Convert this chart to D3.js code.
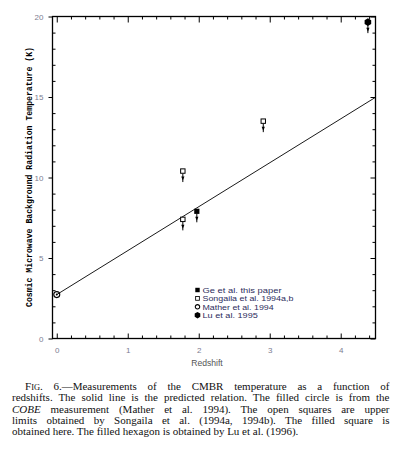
<!DOCTYPE html>
<html>
<head>
<meta charset="utf-8">
<script src="https://cdn.jsdelivr.net/npm/d3@7"></script>
<style>
  body { margin: 0; background: #fff; }
  svg { display: block; }
</style>
</head>
<body>
<div id="chart"></div>
<script>
const matherZ = [0],                  matherT = [2.726];
const songailaZ = [1.776, 1.776, 2.909], songailaT = [7.4, 10.4, 13.5];
const geZ = [1.973],                  geT = [7.9];
const luZ = [4.383],                  luT = [19.65];

// predicted relation (end points of the solid line)
const predictedZ = [0, 4.49], predictedT = [2.728, 14.98];

const xMajor = [0, 1, 2, 3, 4];
const yMajor = [0, 5, 10, 15, 20];

const legendLabels = ['Ge et al. this paper', 'Songaila et al. 1994a,b', 'Mather et al. 1994', 'Lu et al. 1995'];
const legendKinds = ['filledSquare', 'openSquare', 'openCircle', 'hexagon'];

const captionLines = [
    [{t: 'F'}, {t: 'IG', sc: true}, {t: '. 6.\u2014Measurements of the CMBR temperature as a function of'}],
    [{t: 'redshifts. The solid line is the predicted relation. The filled circle is from the'}],
    [{t: 'COBE', it: true}, {t: ' measurement (Mather et al. 1994). The open squares are upper'}],
    [{t: 'limits obtained by Songaila et al. (1994a, 1994b). The filled square is'}],
    [{t: 'obtained here. The filled hexagon is obtained by Lu et al. (1996).'}]
];

const W = 398, H = 455;

let svg = d3.select('#chart').append('svg')
    .attr('width', W)
    .attr('height', H);

// scales
let x = d3.scaleLinear().domain([-0.06, 4.49]).range([52.5, 375.5]);
let y = d3.scaleLinear().domain([0, 20]).range([338.5, 16.5]);

let xMinor = d3.range(0, 4.5, 0.2).filter(v => Math.abs(v - Math.round(v)) > 1e-6);
let yMinor = d3.range(0, 20, 1).filter(v => v % 5 !== 0);

let tickFont = 'Liberation Sans, Arial, sans-serif';
let tickColor = '#7c7c90';

function styleAxis(g) {
    g.select('.domain').remove();
    g.selectAll('line').attr('stroke', '#000').attr('stroke-width', 1);
    g.selectAll('text')
        .attr('font-family', tickFont)
        .attr('font-size', 8)
        .attr('fill', tickColor);
}

// bottom
svg.append('g').attr('transform', `translate(0,${y(0)})`)
    .call(d3.axisBottom(x).tickValues(xMajor).tickSize(-5).tickPadding(8.5).tickFormat(d3.format('d')))
    .call(styleAxis);
svg.append('g').attr('transform', `translate(0,${y(0)})`)
    .call(d3.axisBottom(x).tickValues(xMinor).tickSize(-3).tickFormat(''))
    .call(styleAxis);

// top
svg.append('g').attr('transform', `translate(0,${y(20)})`)
    .call(d3.axisTop(x).tickValues(xMajor).tickSize(-6).tickFormat(''))
    .call(styleAxis);
svg.append('g').attr('transform', `translate(0,${y(20)})`)
    .call(d3.axisTop(x).tickValues(xMinor).tickSize(-3).tickFormat(''))
    .call(styleAxis);

// left
svg.append('g').attr('transform', `translate(${x.range()[0]},0)`)
    .call(d3.axisLeft(y).tickValues(yMajor).tickSize(4).tickPadding(5).tickFormat(d3.format('d')))
    .call(styleAxis);
svg.append('g').attr('transform', `translate(${x.range()[0]},0)`)
    .call(d3.axisLeft(y).tickValues(yMinor).tickSize(-3).tickFormat(''))
    .call(styleAxis);

// right
svg.append('g').attr('transform', `translate(${x.range()[1]},0)`)
    .call(d3.axisRight(y).tickValues(yMajor).tickSize(-5).tickFormat(''))
    .call(styleAxis);
svg.append('g').attr('transform', `translate(${x.range()[1]},0)`)
    .call(d3.axisRight(y).tickValues(yMinor).tickSize(-3).tickFormat(''))
    .call(styleAxis);

// frame
svg.append('rect')
    .attr('x', x.range()[0])
    .attr('y', y(20))
    .attr('width', x.range()[1] - x.range()[0])
    .attr('height', y(0) - y(20))
    .attr('fill', 'none')
    .attr('stroke', '#000')
    .attr('stroke-width', 1.3);

// predicted line
let lineData = predictedZ.map((z, i) => [z, predictedT[i]]);
svg.append('path')
    .datum(lineData)
    .attr('d', d3.line().x(d => x(d[0])).y(d => y(d[1])))
    .attr('fill', 'none')
    .attr('stroke', '#000')
    .attr('stroke-width', 0.9);

// marker drawing
let hexPath = d3.line()(d3.range(6).map(k => {
    let a = Math.PI / 6 + k * Math.PI / 3;
    return [3.8 * Math.cos(a), 3.8 * Math.sin(a)];
})) + 'Z';

function drawMarker(g, kind) {
    if (kind === 'filledSquare') {
        g.append('rect').attr('x', -2.6).attr('y', -2.6).attr('width', 5.2).attr('height', 5.2).attr('fill', '#000');
    } else if (kind === 'openSquare') {
        g.append('rect').attr('x', -2.2).attr('y', -2.2).attr('width', 4.4).attr('height', 4.4)
            .attr('fill', '#fff').attr('stroke', '#000').attr('stroke-width', 1);
    } else if (kind === 'openCircle') {
        g.append('circle').attr('r', 2.6).attr('fill', '#fff').attr('stroke', '#000').attr('stroke-width', 1.3);
    } else if (kind === 'hexagon') {
        g.append('path').attr('d', hexPath).attr('fill', '#000');
    }
}

function drawArrow(g) {
    g.append('line').attr('x1', 0).attr('x2', 0).attr('y1', 2.5).attr('y2', 11)
        .attr('stroke', '#000').attr('stroke-width', 1);
    g.append('path').attr('d', 'M-1.6,5.5 L1.6,5.5 L0,9.5 Z').attr('fill', '#000');
}

function addSeries(zs, ts, kind, arrow) {
    zs.forEach((z, i) => {
        let g = svg.append('g').attr('transform', `translate(${x(z)},${y(ts[i])})`);
        if (arrow) drawArrow(g);
        drawMarker(g, kind);
    });
}

addSeries(songailaZ, songailaT, 'openSquare', true);
addSeries(geZ, geT, 'filledSquare', true);
addSeries(luZ, luT, 'hexagon', true);

// Mather: open circle with centre dot
matherZ.forEach((z, i) => {
    let g = svg.append('g').attr('transform', `translate(${x(z)},${y(matherT[i])})`);
    g.append('circle').attr('r', 3).attr('fill', 'none').attr('stroke', '#000').attr('stroke-width', 1.1);
    g.append('circle').attr('r', 1).attr('fill', '#000');
});

// legend
let legend = svg.append('g').attr('transform', 'translate(197.5,290)');
legendLabels.forEach((label, i) => {
    let row = legend.append('g').attr('transform', `translate(0,${i * 8.4})`);
    let m = row.append('g').attr('transform', 'scale(0.85)');
    drawMarker(m, legendKinds[i]);
    row.append('text')
        .attr('x', 5)
        .attr('y', 3)
        .attr('font-family', tickFont)
        .attr('font-size', 7.4)
        .attr('textLength', label.length * 3.95)
        .attr('lengthAdjust', 'spacingAndGlyphs')
        .attr('fill', '#2c2c5c')
        .text(label);
});

// axis titles
svg.append('text')
    .attr('x', 207)
    .attr('y', 366)
    .attr('text-anchor', 'middle')
    .attr('font-family', tickFont)
    .attr('font-size', 8.6)
    .attr('fill', '#555')
    .text('Redshift');

svg.append('text')
    .attr('transform', 'translate(32,177) rotate(-90)')
    .attr('text-anchor', 'middle')
    .attr('font-family', 'Liberation Mono, Courier New, monospace')
    .attr('font-weight', 'bold')
    .attr('font-size', 8.4)
    .attr('textLength', 260)
    .attr('lengthAdjust', 'spacingAndGlyphs')
    .attr('fill', '#000')
    .text('Cosmic Microwave Background Radiation Temperature (K)');

// caption, justified line by line
let capLeft = 12, capRight = 389.5, capIndent = 13;
captionLines.forEach((parts, i) => {
    let x0 = capLeft + (i === 0 ? capIndent : 0);
    let t = svg.append('text')
        .attr('x', x0)
        .attr('y', 390 + i * 11.3)
        .attr('font-family', 'Liberation Serif, Times New Roman, serif')
        .attr('font-size', 11)
        .attr('fill', '#111');
    parts.forEach(p => {
        let s = t.append('tspan').text(p.t);
        if (p.sc) s.attr('font-size', 8.4);
        if (p.it) s.attr('font-style', 'italic');
    });
    if (i < captionLines.length - 1) {
        let natural = t.node().getComputedTextLength();
        let spaces = parts.map(p => p.t).join('').split(' ').length - 1;
        let extra = (capRight - x0 - natural) / spaces;
        t.style('word-spacing', extra + 'px');
    }
});
</script>
</body>
</html>
